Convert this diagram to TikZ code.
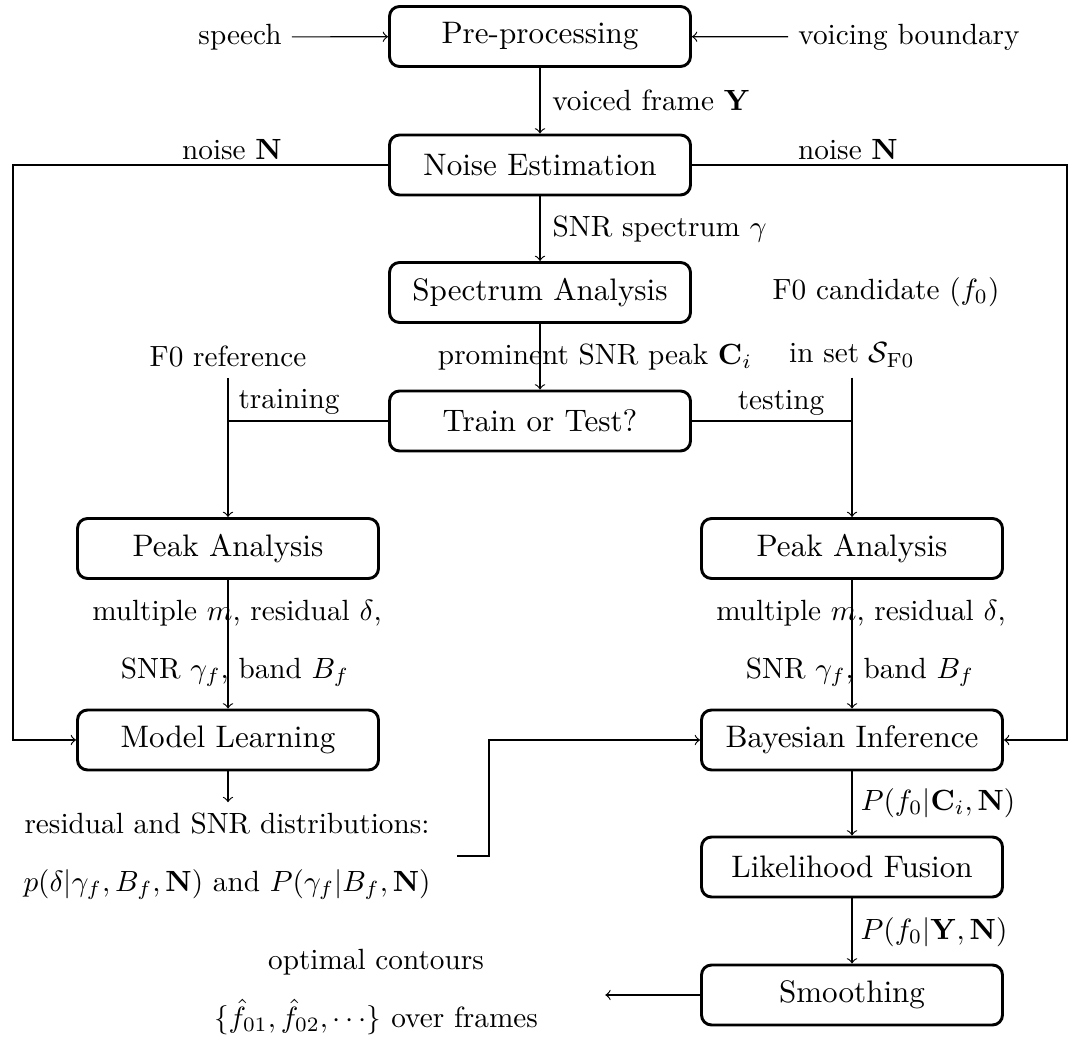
\documentclass[tikz,border=0pt]{standalone}
\begin{document}
\begin{tikzpicture}[x=0.3419pt,y=-0.3419pt,
  proc/.style={draw, line width=1pt, rounded corners=3.4pt,
    minimum width=102.9pt, minimum height=20.5pt, inner sep=2pt,
    font=\fontsize{10.63pt}{12.8pt}\selectfont},
  lbl/.style={inner sep=3.33pt},
  flow/.style={->, line width=0.4pt},
  link/.style={line width=0.4pt}]
\useasboundingbox (0,0) rectangle (1071,1045);

% processing blocks
\node[proc] (pre)    at (540,36.5)  {Pre-processing};
\node[proc] (noise)  at (540,165)   {Noise Estimation};
\node[proc] (spec)   at (540,292.5) {Spectrum Analysis};
\node[proc] (tt)     at (540,421)   {Train or Test?};
\node[proc] (peakL)  at (228,548.5) {Peak Analysis};
\node[proc] (peakR)  at (852,548.5) {Peak Analysis};
\node[proc] (model)  at (228,740)   {Model Learning};
\node[proc] (bayes)  at (852,740)   {Bayesian Inference};
\node[proc] (fuse)   at (852,867)   {Likelihood Fusion};
\node[proc] (smooth) at (852,995)   {Smoothing};

% inputs, outputs and side texts
\node[lbl] (speech) at (240,37)  {speech};
\node[lbl] (voice)  at (909,37)  {voicing boundary};
\node[lbl] (fref)   at (228,357) {F0 reference};
\node[lbl] (fcand)  at (886,292) {F0 candidate $(f_0)$};
\node[lbl] (fset)   at (852,355) {in set $\mathcal{S}_{\mathrm{F0}}$};
\node[lbl, align=center, inner xsep=9pt] (dist) at (227,856)
  {residual and SNR distributions:\\[7.8pt]
   $p(\delta|\gamma_f,B_f,\mathbf{N})$ and $P(\gamma_f|B_f,\mathbf{N})$};
\node[lbl, align=center] (out) at (376,992)
  {optimal contours\\[7.8pt]
   $\{\hat{f}_{01},\hat{f}_{02},\cdots\}$ over frames};

% turning points of the long connectors
\coordinate (lft) at (13,0);
\coordinate (rgt) at (1067,0);
\coordinate (jog) at (489,0);

% main chain
\draw[flow] (speech) -- (pre);
\draw[flow] (voice) -- (pre);
\draw[flow] (pre) -- node[anchor=west, inner sep=0pt, xshift=4pt] (lvf) {voiced frame $\mathbf{Y}$} (noise);
\draw[flow] (noise) -- (spec);
\draw[flow] (spec) -- (tt);

% noise estimate fed to both branches
\draw[flow] (noise.west) -- (noise.west -| lft) |- (model.west);
\draw[flow] (noise.east) -- (noise.east -| rgt) |- (bayes.east);

% training and testing branches
\draw[flow] (fref) -- (peakL);
\draw[link] (tt.west) -- (tt.west -| peakL);
\draw[flow] (fset) -- (peakR);
\draw[link] (tt.east) -- (tt.east -| peakR);
\draw[flow] (peakL) -- (model);
\draw[flow] (peakR) -- (bayes);
\draw[flow] (model) -- (model |- dist.north);
\draw[flow] (dist.east) -- (dist.east -| jog) |- (bayes.west);
\draw[flow] (bayes) -- (fuse);
\draw[flow] (fuse) -- (smooth);
\draw[flow, shorten >=19.5pt] (smooth.west) -- (smooth.west -| out.east);

% connector labels
\node[lbl] (lnl) at (232,150) {noise $\mathbf{N}$};
\node[lbl] (lnr) at (848,150) {noise $\mathbf{N}$};
\node[anchor=west, inner sep=0pt] (lsnr) at (552,229) {SNR spectrum $\gamma$};
\node[lbl] (lpk)  at (595,357) {prominent SNR peak $\mathbf{C}_i$};
\node[lbl] (ltr)  at (289,402) {training};
\node[lbl] (lte)  at (781,403) {testing};
\node[lbl] (lml1) at (237,613) {multiple $m$, residual $\delta$,};
\node[lbl] (lml2) at (235,672) {SNR $\gamma_f$, band $B_f$};
\node[lbl] (lmr1) at (861,613) {multiple $m$, residual $\delta$,};
\node[lbl] (lmr2) at (860,672) {SNR $\gamma_f$, band $B_f$};
\node[lbl] (lpc)  at (938,803) {$P(f_0|\mathbf{C}_i,\mathbf{N})$};
\node[lbl] (lpy)  at (934,932) {$P(f_0|\mathbf{Y},\mathbf{N})$};
\end{tikzpicture}
\end{document}
